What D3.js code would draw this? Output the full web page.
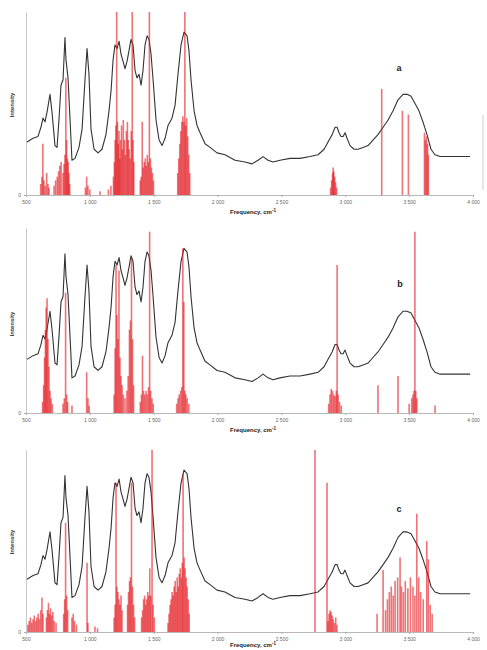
<!DOCTYPE html>
<html><head><meta charset="utf-8">
<script src="https://cdn.jsdelivr.net/npm/d3@7"></script>
<style>body{margin:0;background:#fff} svg{display:block}</style>
</head><body>
<script>
const tickValues = [500,1000,1500,2000,2500,3000,3500,4000];
const tickLabels = ["500","1 000","1 500","2 000","2 500","3 000","3 500","4 000"];
const panelLetters = ["a","b","c"];

const expFreq = [508,555,594,617,633,649,664,688,704,727,743,758,774,790,805,813,829,845,860,884,915,939,962,978,993,1009,1033,1064,1095,1126,1150,1166,1182,1197,1213,1229,1244,1260,1275,1291,1307,1322,1338,1354,1369,1385,1401,1416,1432,1448,1463,1479,1495,1518,1542,1565,1589,1612,1643,1667,1690,1714,1737,1761,1776,1792,1816,1839,1863,1902,1941,1996,2058,2137,2215,2270,2317,2356,2395,2434,2489,2567,2646,2724,2787,2834,2865,2897,2920,2936,2951,2967,2983,2998,3014,3037,3069,3100,3139,3178,3217,3256,3296,3335,3374,3413,3452,3484,3515,3546,3577,3608,3640,3671,3702,3742,3797,3859,3922,3977];
const expIntensity = [0.29,0.31,0.32,0.37,0.42,0.40,0.45,0.55,0.45,0.27,0.26,0.41,0.60,0.63,0.86,0.74,0.64,0.41,0.19,0.20,0.26,0.36,0.63,0.80,0.66,0.36,0.25,0.23,0.25,0.33,0.46,0.57,0.74,0.82,0.80,0.84,0.77,0.73,0.69,0.73,0.79,0.85,0.82,0.68,0.64,0.66,0.60,0.68,0.82,0.87,0.85,0.77,0.63,0.41,0.30,0.27,0.31,0.38,0.42,0.49,0.66,0.82,0.89,0.87,0.79,0.63,0.46,0.38,0.34,0.28,0.26,0.23,0.22,0.19,0.18,0.17,0.19,0.21,0.19,0.18,0.19,0.20,0.20,0.21,0.22,0.25,0.29,0.33,0.37,0.37,0.34,0.32,0.32,0.34,0.31,0.27,0.25,0.25,0.26,0.27,0.30,0.33,0.37,0.41,0.46,0.52,0.55,0.55,0.54,0.50,0.46,0.40,0.33,0.25,0.22,0.21,0.21,0.21,0.21,0.21];

const calcA = [[615,0.06],[625,0.10],[632,0.28],[640,0.08],[650,0.05],[662,0.12],[672,0.06],[680,0.04],
 [720,0.05],[732,0.08],[745,0.10],[755,0.13],[765,0.16],[775,0.18],
 [790,0.12],[798,0.17],[805,0.22],[812,0.64],[818,0.30],[824,0.20],[830,0.18],[836,0.12],[842,0.06],
 [965,0.04],[975,0.10],[985,0.05],[1000,0.03],[1080,0.02],[1145,0.03],[1165,0.05],
 [1185,0.10],[1192,0.18],[1198,0.30],[1204,0.38],[1210,1.0],[1216,0.40],[1222,0.28],[1228,0.35],[1234,0.20],[1240,0.30],[1248,0.38],[1255,0.25],[1262,0.41],[1270,0.30],[1278,0.22],[1286,0.35],[1294,0.40],[1300,0.30],[1308,0.25],[1316,0.20],[1324,0.35],[1332,1.0],[1338,0.30],[1344,0.18],
 [1395,0.08],[1402,0.10],[1410,0.40],[1418,0.15],[1426,0.18],[1434,0.20],[1442,0.16],[1450,0.22],[1458,0.18],[1466,1.0],[1474,0.20],[1482,0.15],[1490,0.12],[1498,0.08],
 [1688,0.12],[1696,0.20],[1704,0.28],[1712,0.35],[1720,0.40],[1728,0.43],[1736,0.40],[1744,1.0],[1750,0.38],[1758,0.42],[1766,0.32],[1774,0.22],[1782,0.12],
 [2885,0.04],[2893,0.08],[2900,0.12],[2905,0.15],[2910,0.13],[2917,0.10],[2924,0.07],[2932,0.04],
 [3285,0.58],[3447,0.46],[3494,0.44],
 [3620,0.34],[3628,0.30],[3636,0.32],[3644,0.28],[3650,0.22]];

const calcB = [[630,0.06],[638,0.15],[645,0.30],[652,0.45],[658,0.57],[665,0.62],[672,0.40],[680,0.25],[688,0.12],[696,0.08],[706,0.05],
 [790,0.05],[800,0.08],[810,0.65],[818,0.10],[826,0.06],
 [860,0.04],[975,0.22],[985,0.08],[995,0.04],
 [1190,0.10],[1198,0.35],[1205,0.80],[1212,0.53],[1220,0.40],[1228,0.77],[1236,0.30],[1244,0.20],[1252,0.15],[1262,0.10],[1275,0.08],[1290,0.12],[1300,0.20],[1310,0.45],[1318,0.50],[1326,0.84],[1334,0.40],[1342,0.15],
 [1395,0.06],[1404,0.10],[1412,0.31],[1420,0.12],[1430,0.10],[1440,0.12],[1450,0.10],[1460,0.14],[1468,0.98],[1476,0.12],[1486,0.08],[1496,0.05],
 [1680,0.05],[1690,0.08],[1700,0.10],[1710,0.12],[1720,0.14],[1728,0.89],[1736,0.60],[1744,0.12],[1752,0.10],[1762,0.08],[1775,0.05],
 [2870,0.05],[2880,0.10],[2890,0.13],[2900,0.12],[2910,0.10],[2920,0.09],[2930,0.12],[2936,0.80],[2944,0.10],[2955,0.06],[2968,0.04],
 [3256,0.15],[3413,0.20],[3500,0.05],[3520,0.08],[3530,0.10],[3538,0.12],[3545,0.98],[3552,0.12],[3560,0.08],[3703,0.04]];

const calcC = [[515,0.04],[525,0.06],[535,0.08],[545,0.05],[555,0.07],[565,0.09],[575,0.06],[585,0.08],[595,0.10],[605,0.07],[615,0.12],[625,0.19],[633,0.10],
 [660,0.08],[668,0.12],[676,0.16],[684,0.10],[692,0.13],[700,0.09],[710,0.11],[720,0.06],[735,0.05],
 [795,0.10],[803,0.18],[810,0.60],[818,0.20],[826,0.12],
 [860,0.08],[870,0.10],[880,0.06],[895,0.04],
 [978,0.38],[985,0.05],[1040,0.03],[1060,0.02],
 [1190,0.08],[1198,0.15],[1205,0.82],[1212,0.25],[1220,0.22],[1228,0.18],[1236,0.15],[1244,0.20],[1252,0.12],
 [1295,0.15],[1303,0.22],[1311,0.28],[1318,0.30],[1326,0.82],[1334,0.25],[1342,0.15],[1350,0.08],
 [1405,0.08],[1413,0.12],[1421,0.18],[1429,0.20],[1437,0.15],[1445,0.18],[1453,0.22],[1461,0.20],[1469,0.35],[1477,0.20],[1487,1.0],[1495,0.15],[1505,0.08],
 [1612,0.05],[1620,0.10],[1628,0.15],[1636,0.18],[1644,0.22],[1652,0.20],[1660,0.25],[1668,0.28],[1676,0.22],[1684,0.30],[1692,0.25],[1700,0.32],[1708,0.35],[1716,0.30],[1724,0.38],[1730,0.87],[1738,0.41],[1746,0.35],[1754,0.30],[1762,0.25],[1770,0.18],[1778,0.10],
 [2763,1.0],[2857,0.82],
 [2865,0.06],[2873,0.10],[2881,0.12],[2889,0.11],[2897,0.09],[2905,0.07],[2915,0.05],[2925,0.08],[2935,0.04],
 [3249,0.10],[3296,0.34],[3315,0.12],[3330,0.18],[3345,0.22],[3360,0.25],[3375,0.20],[3390,0.28],[3410,0.30],[3429,0.41],[3440,0.25],[3455,0.22],[3470,0.28],[3490,0.24],[3510,0.30],[3530,0.25],[3545,0.20],[3560,0.65],[3575,0.30],[3590,0.22],[3610,0.18],[3638,0.50],[3650,0.40],[3665,0.15],[3680,0.10]];

const W = 487, H = 650;
const svg = d3.select("body").append("svg").attr("width", W).attr("height", H);
const x = d3.scaleLinear().domain([500, 4000]).range([26, 473]);
const layout = [
  {top: 12, base: 195, lx: 399, ly: 71, yl: 105, ty: 214},
  {top: 228, base: 413, lx: 400, ly: 287, yl: 324, ty: 432},
  {top: 450, base: 632, lx: 399, ly: 512, yl: 542, ty: 647}
];
const calcs = [calcA, calcB, calcC];
const exp = expFreq.map((f, i) => [f, expIntensity[i]]);
const FONT = "Liberation Sans, Arial, sans-serif";

layout.forEach((L, pi) => {
  const y = d3.scaleLinear().domain([0, 1]).range([L.base, L.top]);
  const g = svg.append("g");

  const gx = g.append("g").attr("transform", `translate(0,${L.base})`)
    .call(d3.axisBottom(x).tickValues(tickValues).tickFormat((d, i) => tickLabels[i]).tickSize(2).tickSizeOuter(0));
  gx.select(".domain").attr("stroke", "#b8b8b8");
  gx.selectAll(".tick line").attr("stroke", "#aaa");
  gx.selectAll("text").attr("font-size", 5).attr("fill", "#666").attr("font-family", FONT);

  const gy = g.append("g").attr("transform", `translate(26,0)`)
    .call(d3.axisLeft(y).tickValues([0]).tickFormat(() => "0").tickSize(2).tickSizeOuter(0));
  gy.select(".domain").attr("stroke", "#c8c8c8");
  gy.selectAll(".tick line").attr("stroke", "#aaa");
  gy.selectAll("text").attr("font-size", 5).attr("fill", "#666").attr("font-family", FONT);

  g.append("path").datum(exp)
    .attr("d", d3.line().x(d => x(d[0])).y(d => y(d[1])))
    .attr("fill", "none").attr("stroke", "#333").attr("stroke-width", 1.1)
    .attr("stroke-linejoin", "round");

  g.selectAll("line.stick").data(calcs[pi]).join("line").attr("class", "stick")
    .attr("x1", d => x(d[0])).attr("x2", d => x(d[0]))
    .attr("y1", y(0)).attr("y2", d => y(d[1]))
    .attr("stroke", "#e3141b").attr("stroke-width", 1.6).attr("stroke-opacity", 0.6);

  g.append("text").attr("transform", `translate(14,${L.yl}) rotate(-90)`)
    .attr("text-anchor", "middle").attr("font-size", 6).attr("font-weight", "bold")
    .attr("fill", "#333").attr("font-family", FONT).text("Intensity");

  const t = g.append("text").attr("x", 253).attr("y", L.ty)
    .attr("text-anchor", "middle").attr("font-size", 6).attr("font-weight", "bold")
    .attr("fill", "#222").attr("font-family", FONT);
  t.append("tspan").text("Frequency, cm");
  t.append("tspan").attr("dy", -2.5).attr("font-size", 4.5).text("-1");

  g.append("text").attr("x", L.lx).attr("y", L.ly).attr("text-anchor", "middle")
    .attr("font-size", 9).attr("font-weight", "bold").attr("fill", "#222")
    .attr("font-family", FONT).text(panelLetters[pi]);
});

svg.append("line").attr("x1", 483).attr("x2", 483).attr("y1", 115).attr("y2", 190)
  .attr("stroke", "#cfcfcf").attr("stroke-width", 1);
</script>
</body></html>
